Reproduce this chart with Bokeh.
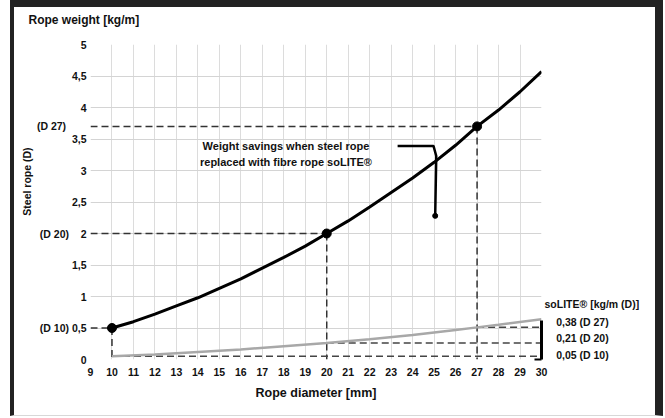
from bokeh.plotting import figure
from bokeh.layouts import column
from bokeh.models import FixedTicker, Label, LinearAxis, Title
from bokeh.embed import file_html
from bokeh.resources import INLINE

# ---- data ----
diameters = [10, 11, 12, 13, 14, 15, 16, 17, 18, 19, 20, 21, 22, 23, 24, 25, 26, 27, 28, 29, 30]
steel_weight = [0.50, 0.60, 0.72, 0.85, 0.98, 1.13, 1.28, 1.45, 1.62, 1.80, 2.00,
                2.20, 2.42, 2.65, 2.88, 3.13, 3.40, 3.70, 3.96, 4.25, 4.57]
fibre_d = [10, 12, 14, 16, 18, 20, 22, 24, 26, 27, 28, 30]
fibre_weight = [0.05, 0.08, 0.12, 0.16, 0.21, 0.26, 0.32, 0.39, 0.47, 0.51, 0.55, 0.64]
marked_d = [10, 20, 27]
marked_steel = [0.5, 2.0, 3.7]
marked_fibre = [0.05, 0.26, 0.51]
steel_labels = ["(D 10)", "(D 20)", "(D 27)"]
fibre_labels = ["0,05 (D 10)", "0,21 (D 20)", "0,38 (D 27)"]
fibre_title = "soLITE® [kg/m (D)]"
callout_x = [23.3, 24.97, 25.1, 25.05]
callout_y = [3.39, 3.39, 3.23, 2.28]
x_ticks = list(range(9, 31))
y_ticks = [0, 0.5, 1, 1.5, 2, 2.5, 3, 3.5, 4, 4.5, 5]
y_tick_labels = ["0", "0,5", "1", "1,5", "2", "2,5", "3", "3,5", "4", "4,5", "5"]

FONT = "Liberation Sans"
INK = "#111"
NB = "\u00a0"

p = figure(width=641, height=408, x_range=(9, 30), y_range=(0, 5),
           output_backend="svg", toolbar_location=None,
           min_border_left=76, min_border_right=114, min_border_top=37, min_border_bottom=56)
p.outline_line_color = None
p.background_fill_color = "white"
p.border_fill_color = "white"

# title (second blank line lifts the text inside the top border area)
p.add_layout(Title(text="Rope weight [kg/m]\n" + NB, align="left", offset=-62, standoff=5,
                   text_font=FONT, text_font_size="12px", text_font_style="bold",
                   text_color=INK, text_line_height=1.1), "above")


def style_axis(ax, size="11px"):
    ax.axis_line_color = None
    ax.major_tick_line_color = None
    ax.minor_tick_line_color = None
    ax.major_tick_out = 0
    ax.major_tick_in = 0
    ax.minor_tick_out = 0
    ax.minor_tick_in = 0
    ax.major_label_text_font = FONT
    ax.major_label_text_font_size = size
    ax.major_label_text_font_style = "bold"
    ax.major_label_text_color = INK


# x axis
p.xaxis.ticker = FixedTicker(ticks=x_ticks)
style_axis(p.xaxis[0], "10.5px")
p.xaxis.major_label_standoff = 8
p.xaxis.axis_label = "Rope diameter [mm]"
p.xaxis.axis_label_text_font = FONT
p.xaxis.axis_label_text_font_size = "12.5px"
p.xaxis.axis_label_text_font_style = "bold"
p.xaxis.axis_label_text_color = INK
p.xaxis.axis_label_standoff = 7

# y axis: weights plus the steel rope diameter marks
overrides = {t: l for t, l in zip(y_ticks, y_tick_labels)}
gaps = {0.5: 1, 2.0: 4}
for w, lab in zip(marked_steel, steel_labels):
    if w in overrides:
        overrides[w] = lab + NB * gaps[w] + overrides[w]
    else:
        overrides[w] = lab + NB * 7
p.yaxis.ticker = FixedTicker(ticks=sorted(set(y_ticks + marked_steel)))
p.yaxis.major_label_overrides = overrides
style_axis(p.yaxis[0], "10.5px")
p.yaxis.major_label_standoff = 4
p.yaxis.axis_label = NB * 14 + "Steel rope (D)"
p.yaxis.axis_label_text_font = FONT
p.yaxis.axis_label_text_font_size = "10.5px"
p.yaxis.axis_label_text_font_style = "bold"
p.yaxis.axis_label_text_color = INK
p.yaxis.axis_label_standoff = 1

# right bracket (axis line) for fibre rope
bracket = LinearAxis(ticker=FixedTicker(ticks=[], minor_ticks=[0]), bounds=(0, 0.62))
style_axis(bracket)
bracket.axis_line_color = "black"
bracket.axis_line_width = 3
bracket.minor_tick_line_color = "black"
bracket.minor_tick_line_width = 2
bracket.minor_tick_in = 7
bracket.major_label_standoff = 0
p.add_layout(bracket, "right")

# right labels for fibre rope
fib_pos = [0.07, 0.34, 0.6, 0.88]
fib_txt = [NB * 4 + t for t in fibre_labels] + [fibre_title]
fib_axis = LinearAxis(ticker=FixedTicker(ticks=fib_pos))
fib_axis.major_label_overrides = {t: l for t, l in zip(fib_pos, fib_txt)}
style_axis(fib_axis, "10.5px")
fib_axis.major_label_standoff = 3
p.add_layout(fib_axis, "right")

# grid
p.xgrid.ticker = FixedTicker(ticks=x_ticks)
p.ygrid.ticker = FixedTicker(ticks=y_ticks)
p.xgrid.grid_line_color = "#dcdcdc"
p.ygrid.grid_line_color = "#d4d4d4"

# dashed guide lines for steel rope points
for d, w in zip(marked_d, marked_steel):
    p.line([9, d], [w, w], line_color="#333", line_width=1.5, line_dash="7 4")
    p.line([d, d], [w, 0], line_color="#333", line_width=1.5, line_dash="7 4")
# dashed guide lines for fibre rope points
for d, w in zip(marked_d, marked_fibre):
    p.line([d, 30], [w, w], line_color="#444", line_width=1.5, line_dash="7 4")

# curves
p.line(fibre_d, fibre_weight, line_color="#a8a8a8", line_width=2.5)
p.line(diameters, steel_weight, line_color="black", line_width=3)
p.scatter(marked_d, marked_steel, size=9, color="black")

# callout
p.line(callout_x, callout_y, line_color="black", line_width=2.5)
p.scatter(callout_x[-1:], callout_y[-1:], size=5, color="black")
p.add_layout(Label(x=18.1, y=3.39, text="Weight savings when steel rope\nreplaced with fibre rope soLITE®",
                   text_font=FONT, text_font_size="11px", text_font_style="bold",
                   text_align="center", text_baseline="middle", text_color=INK,
                   y_offset=-8, text_line_height=1.4))

page = column(p, styles={"margin-left": "10px", "border-left": "4px solid #222",
                         "border-right": "8px solid #222", "border-top": "7px solid #222",
                         "border-bottom": "1px solid #d8d8d8",
                         "box-sizing": "content-box"})

open("out.html", "w").write(file_html(page, INLINE))
